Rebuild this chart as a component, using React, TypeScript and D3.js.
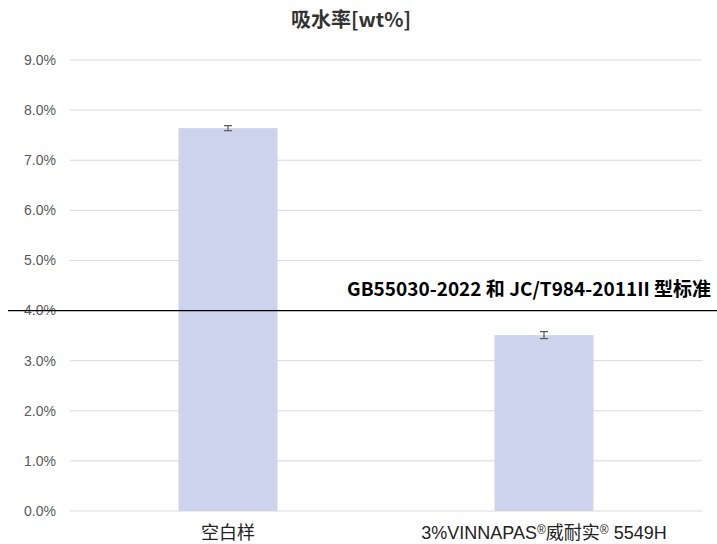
import React from "react";
import * as d3 from "d3";

const categories = ["空白样", "3%VINNAPAS®威耐实® 5549H"];
const values = [7.64, 3.51];
const errors = [0.05, 0.07];
const yTicks = [0, 1, 2, 3, 4, 5, 6, 7, 8, 9];
const standardValue = 4.0;
const standardLabel = "GB55030-2022 和 JC/T984-2011II 型标准";
const title = "吸水率[wt%]";

const W = 717;
const H = 544;
const FONT = "'Noto Sans CJK SC', 'Microsoft YaHei', sans-serif";
const LABEL_FONT = "'Liberation Sans', Arial, 'Noto Sans CJK SC', sans-serif";

// Render registered-trademark marks as small superscripts
function withSuperscripts(label: string) {
  const parts = label.split("®");
  const out: React.ReactNode[] = [];
  parts.forEach((p, i) => {
    if (p) out.push(<tspan key={`t${i}`}>{p}</tspan>);
    if (i < parts.length - 1) {
      out.push(
        <tspan key={`r${i}`} fontSize={12} baselineShift="40%">
          ®
        </tspan>
      );
      out.push(<tspan key={`z${i}`} baselineShift="0"></tspan>);
    }
  });
  return out;
}

export default function App() {
  const x = d3.scaleBand<string>().domain(categories).range([70, 702]).padding(0);
  const y = d3.scaleLinear().domain([0, 9]).range([511, 60]);
  const barW = x.bandwidth() * 0.313;

  return (
    <svg
      width={W}
      height={H}
      style={{ position: "absolute", left: 0, top: 0, background: "#fff" }}
      fontFamily={FONT}
    >
      <text x={351} y={27} textAnchor="middle" fontSize={20} fontWeight={700} fill="#333">
        {title}
      </text>

      {yTicks.map((t) => (
        <g key={t}>
          <line x1={70} x2={702} y1={y(t)} y2={y(t)} stroke="#d9d9d9" strokeWidth={1} />
          <text
            x={56}
            y={y(t)}
            dy="0.35em"
            textAnchor="end"
            fontSize={14}
            fill="#595959"
            fontFamily={LABEL_FONT}
          >
            {`${t.toFixed(1)}%`}
          </text>
        </g>
      ))}

      {categories.map((c, i) => {
        const cx = (x(c) ?? 0) + x.bandwidth() / 2;
        const top = y(values[i]);
        const eHi = y(values[i] + errors[i]);
        const eLo = y(values[i] - errors[i]);
        return (
          <g key={c}>
            <rect x={cx - barW / 2} y={top} width={barW} height={y(0) - top} fill="#cdd3ec" />
            <g stroke="#595959" strokeWidth={1.2}>
              <line x1={cx} x2={cx} y1={eHi} y2={eLo} />
              <line x1={cx - 4} x2={cx + 4} y1={eHi} y2={eHi} />
              <line x1={cx - 4} x2={cx + 4} y1={eLo} y2={eLo} />
            </g>
            <text
              x={cx}
              y={539}
              textAnchor="middle"
              fontSize={18}
              fill="#222"
              fontFamily={LABEL_FONT}
            >
              {withSuperscripts(c)}
            </text>
          </g>
        );
      })}

      <line
        x1={8}
        x2={717}
        y1={y(standardValue)}
        y2={y(standardValue)}
        stroke="#000"
        strokeWidth={1.3}
      />
      <text x={711} y={296} textAnchor="end" fontSize={19} fontWeight={700} fill="#000">
        {standardLabel}
      </text>
    </svg>
  );
}
